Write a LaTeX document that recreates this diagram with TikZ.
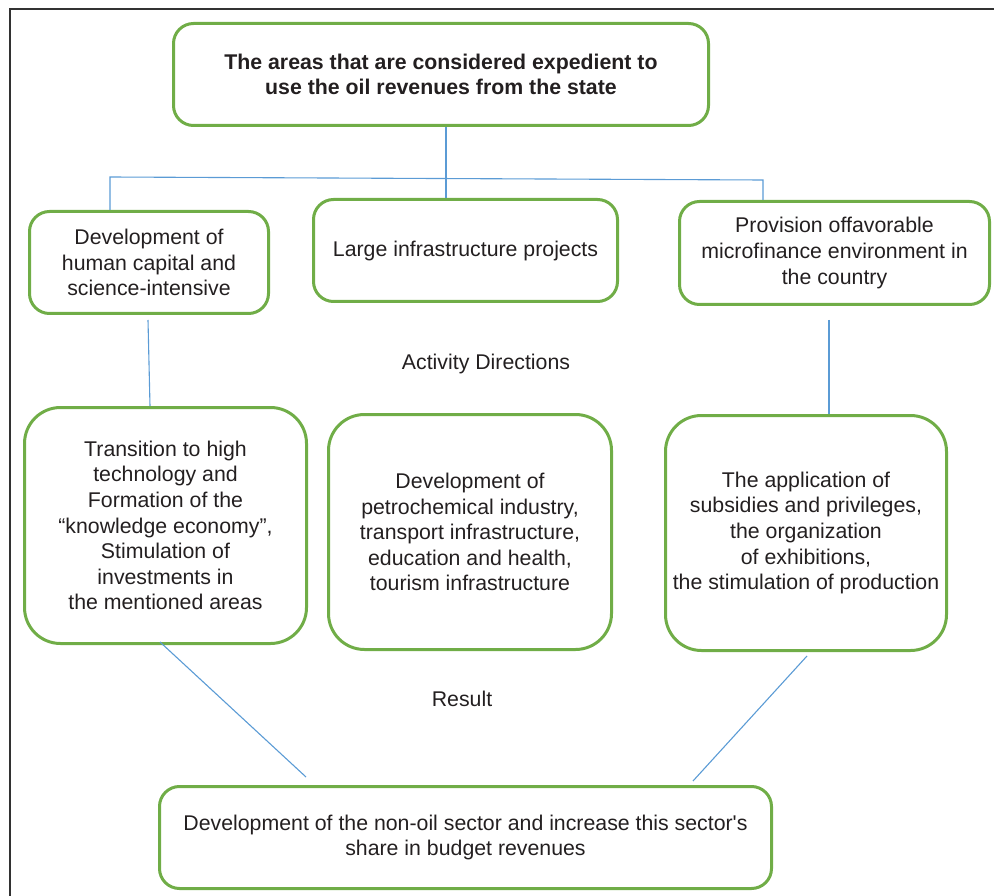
\documentclass[tikz,border=0pt]{standalone}
\usepackage{fontspec}
\setmainfont{Liberation Sans}
\definecolor{boxgreen}{RGB}{112,173,71}
\definecolor{linkblue}{RGB}{91,155,213}
\definecolor{txt}{RGB}{35,31,32}
\definecolor{framec}{RGB}{50,50,50}
\begin{document}
\begin{tikzpicture}[x=1pt,y=-1pt,
  box/.style={draw=boxgreen, line width=3pt, rounded corners=20pt, align=center,
    text=txt, inner sep=0pt, font=\fontsize{21.3}{25.6}\selectfont},
  bigbox/.style={box, rounded corners=36pt},
  conn/.style={draw=linkblue, line width=1.1pt},
  lbl/.style={text=txt, inner sep=0pt, font=\fontsize{21.3}{25.6}\selectfont}]
\useasboundingbox (0,0) rectangle (994,896);
% frame
\draw[framec, line width=1.5pt] (10,896) -- (10,9) -- (994,9);

\node[box, minimum width=535pt, minimum height=102pt, font=\fontsize{21.3}{25.6}\selectfont\bfseries]
  (top) at (441,74.5) {The areas that are considered expedient to\\use the oil revenues from the state};

\node[box, minimum width=239pt, minimum height=102pt] (b1) at (149,262.5)
  {Development of\\human capital and\\science-intensive};
\node[box, minimum width=304pt, minimum height=102pt] (b2) at (465.5,250.5)
  {Large infrastructure projects};
\node[box, minimum width=310pt, minimum height=103pt] (b3) at (834.5,253)
  {Provision offavorable\\microfinance environment in\\the country};

\node[lbl] (act) at (486,364) {Activity Directions};

\node[bigbox, minimum width=282pt, minimum height=236pt] (b4) at (165.5,525.5)
  {Transition to high\\technology and\\Formation of the\\``knowledge economy'',\\Stimulation of\\investments in\\the mentioned areas};
\node[bigbox, minimum width=283pt, minimum height=235pt] (b5) at (470,532)
  {Development of\\petrochemical industry,\\transport infrastructure,\\education and health,\\tourism infrastructure};
\node[bigbox, minimum width=281pt, minimum height=235pt] (b6) at (806,533)
  {The application of\\subsidies and privileges,\\the organization\\of exhibitions,\\the stimulation of production};

\node[lbl] (res) at (462,699) {Result};

\node[box, minimum width=612pt, minimum height=102pt] (b7) at (465.5,837.5)
  {Development of the non-oil sector and increase this sector\textquotesingle s\\share in budget revenues};

% tree at top
\coordinate (jl) at (110,177);
\coordinate (jr) at (763,180);
\draw[conn] ([xshift=5pt]top.south) -- ([xshift=-19.5pt]b2.north);
\draw[conn] ([xshift=-39pt]b1.north) -- (jl) -- (jr) -- ([xshift=-71.5pt]b3.north);

% vertical links
\draw[conn] ([shift={(-1,5)}]b1.south) -- ([xshift=-15.5pt]b4.north);
\draw[conn] ([shift={(-5.5,14)}]b3.south) -- ([xshift=23pt]b6.north);

% diagonal links
\draw[conn] ([shift={(-5.5,-3)}]b4.south) -- ([shift={(-159.5,-8)}]b7.north);
\draw[conn] ([shift={(1,4)}]b6.south) -- ([shift={(227.5,-4)}]b7.north);
\end{tikzpicture}
\end{document}
